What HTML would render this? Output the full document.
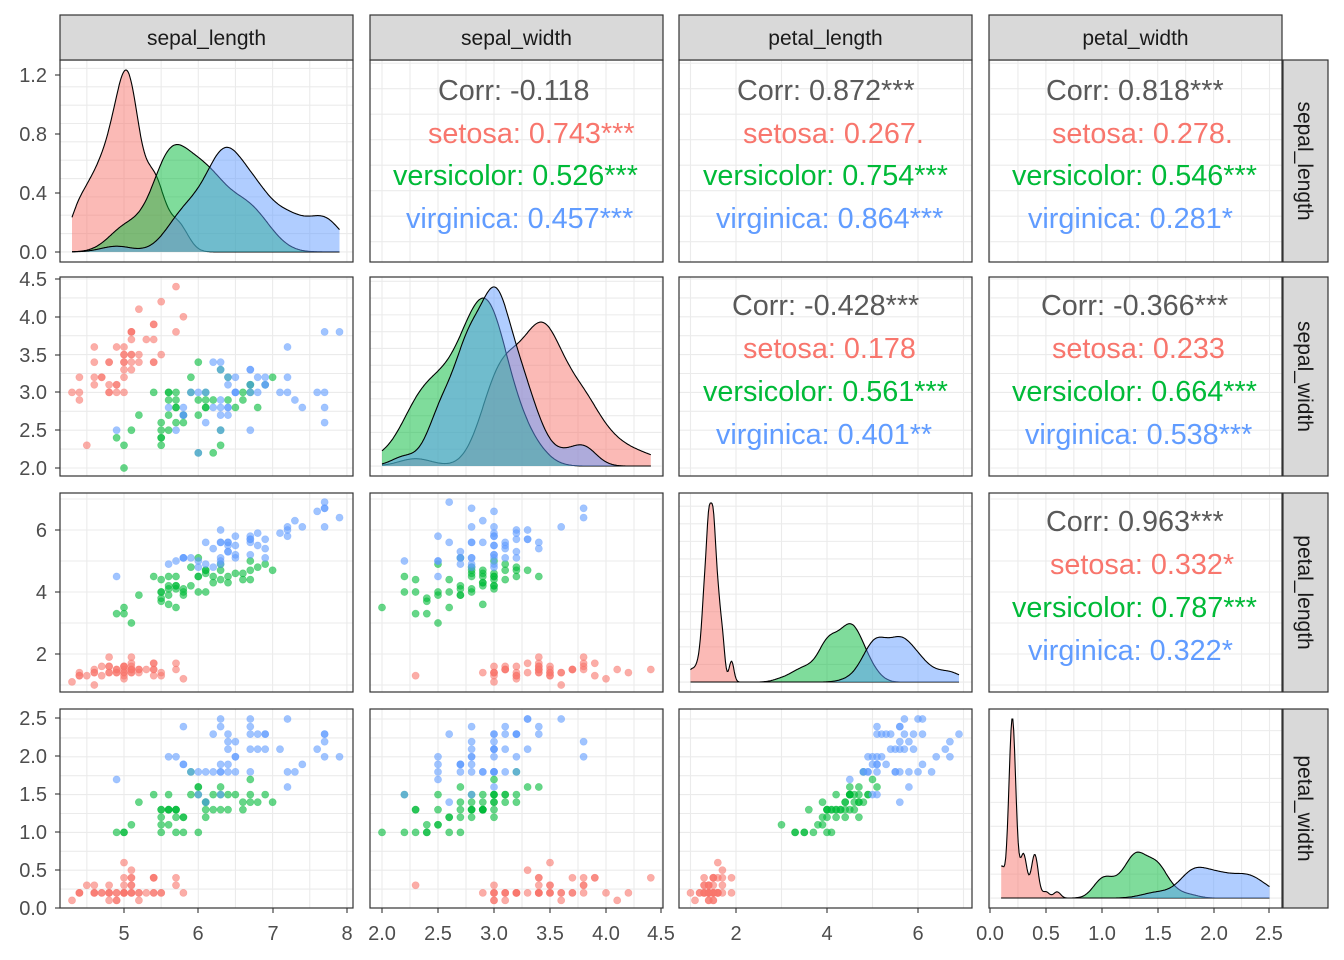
<!DOCTYPE html>
<html><head><meta charset="utf-8"><style>
html,body{margin:0;padding:0;background:#fff;}
svg{display:block;font-family:"Liberation Sans",Arial,sans-serif;}
.ax{font-size:20px;fill:#4d4d4d;}
.st{font-size:21px;fill:#1a1a1a;}
.cr{font-size:28.8px;}
</style></head><body>
<svg id="s" width="1344" height="960" viewBox="0 0 1344 960" xmlns="http://www.w3.org/2000/svg">
<g id="grid"></g><g id="data"></g><g id="frames"></g>
<g id="txt">
<text class="st" x="206.5" y="45" text-anchor="middle">sepal_length</text>
<text class="st" x="516.5" y="45" text-anchor="middle">sepal_width</text>
<text class="st" x="825.5" y="45" text-anchor="middle">petal_length</text>
<text class="st" x="1135.5" y="45" text-anchor="middle">petal_width</text>
<text class="st" transform="translate(1298,161) rotate(90)" text-anchor="middle">sepal_length</text>
<text class="st" transform="translate(1298,376.5) rotate(90)" text-anchor="middle">sepal_width</text>
<text class="st" transform="translate(1298,592.5) rotate(90)" text-anchor="middle">petal_length</text>
<text class="st" transform="translate(1298,808.5) rotate(90)" text-anchor="middle">petal_width</text>

<g class="cr">
<text x="438" y="100" fill="#595959">Corr: -0.118</text>
<text x="428" y="143" fill="#F8766D">setosa: 0.743***</text>
<text x="393" y="185" fill="#00BA38">versicolor: 0.526***</text>
<text x="406" y="228" fill="#619CFF">virginica: 0.457***</text>

<text x="737" y="100" fill="#595959">Corr: 0.872***</text>
<text x="743" y="143" fill="#F8766D">setosa: 0.267.</text>
<text x="703" y="185" fill="#00BA38">versicolor: 0.754***</text>
<text x="716" y="228" fill="#619CFF">virginica: 0.864***</text>

<text x="1046" y="100" fill="#595959">Corr: 0.818***</text>
<text x="1052" y="143" fill="#F8766D">setosa: 0.278.</text>
<text x="1012" y="185" fill="#00BA38">versicolor: 0.546***</text>
<text x="1028" y="228" fill="#619CFF">virginica: 0.281*</text>

<text x="732" y="315" fill="#595959">Corr: -0.428***</text>
<text x="743" y="358" fill="#F8766D">setosa: 0.178</text>
<text x="703" y="401" fill="#00BA38">versicolor: 0.561***</text>
<text x="716" y="444" fill="#619CFF">virginica: 0.401**</text>

<text x="1041" y="315" fill="#595959">Corr: -0.366***</text>
<text x="1052" y="358" fill="#F8766D">setosa: 0.233</text>
<text x="1012" y="401" fill="#00BA38">versicolor: 0.664***</text>
<text x="1025" y="444" fill="#619CFF">virginica: 0.538***</text>

<text x="1046" y="531" fill="#595959">Corr: 0.963***</text>
<text x="1050" y="574" fill="#F8766D">setosa: 0.332*</text>
<text x="1012" y="617" fill="#00BA38">versicolor: 0.787***</text>
<text x="1028" y="660" fill="#619CFF">virginica: 0.322*</text>
</g>

<g class="ax" text-anchor="end">
<text x="47" y="82">1.2</text><text x="47" y="141">0.8</text><text x="47" y="200">0.4</text><text x="47" y="259">0.0</text>
<text x="47" y="286">4.5</text><text x="47" y="324">4.0</text><text x="47" y="362">3.5</text><text x="47" y="399">3.0</text><text x="47" y="437">2.5</text><text x="47" y="475">2.0</text>
<text x="47" y="537">6</text><text x="47" y="599">4</text><text x="47" y="661">2</text>
<text x="47" y="725">2.5</text><text x="47" y="763">2.0</text><text x="47" y="801">1.5</text><text x="47" y="839">1.0</text><text x="47" y="877">0.5</text><text x="47" y="915">0.0</text>
</g>
<g class="ax" text-anchor="middle">
<text x="124" y="940">5</text><text x="198" y="940">6</text><text x="273" y="940">7</text><text x="347" y="940">8</text>
<text x="382" y="940">2.0</text><text x="438" y="940">2.5</text><text x="494" y="940">3.0</text><text x="550" y="940">3.5</text><text x="606" y="940">4.0</text><text x="661" y="940">4.5</text>
<text x="736" y="940">2</text><text x="827" y="940">4</text><text x="918" y="940">6</text>
<text x="990" y="940">0.0</text><text x="1046" y="940">0.5</text><text x="1102" y="940">1.0</text><text x="1158" y="940">1.5</text><text x="1214" y="940">2.0</text><text x="1269" y="940">2.5</text>
</g>
</g>
</svg>
<script>
var D=[
[5.1,3.5,1.4,0.2],[4.9,3.0,1.4,0.2],[4.7,3.2,1.3,0.2],[4.6,3.1,1.5,0.2],[5.0,3.6,1.4,0.2],[5.4,3.9,1.7,0.4],[4.6,3.4,1.4,0.3],[5.0,3.4,1.5,0.2],[4.4,2.9,1.4,0.2],[4.9,3.1,1.5,0.1],
[5.4,3.7,1.5,0.2],[4.8,3.4,1.6,0.2],[4.8,3.0,1.4,0.1],[4.3,3.0,1.1,0.1],[5.8,4.0,1.2,0.2],[5.7,4.4,1.5,0.4],[5.4,3.9,1.3,0.4],[5.1,3.5,1.4,0.3],[5.7,3.8,1.7,0.3],[5.1,3.8,1.5,0.3],
[5.4,3.4,1.7,0.2],[5.1,3.7,1.5,0.4],[4.6,3.6,1.0,0.2],[5.1,3.3,1.7,0.5],[4.8,3.4,1.9,0.2],[5.0,3.0,1.6,0.2],[5.0,3.4,1.6,0.4],[5.2,3.5,1.5,0.2],[5.2,3.4,1.4,0.2],[4.7,3.2,1.6,0.2],
[4.8,3.1,1.6,0.2],[5.4,3.4,1.5,0.4],[5.2,4.1,1.5,0.1],[5.5,4.2,1.4,0.2],[4.9,3.1,1.5,0.2],[5.0,3.2,1.2,0.2],[5.5,3.5,1.3,0.2],[4.9,3.6,1.4,0.1],[4.4,3.0,1.3,0.2],[5.1,3.4,1.5,0.2],
[5.0,3.5,1.3,0.3],[4.5,2.3,1.3,0.3],[4.4,3.2,1.3,0.2],[5.0,3.5,1.6,0.6],[5.1,3.8,1.9,0.4],[4.8,3.0,1.4,0.3],[5.1,3.8,1.6,0.2],[4.6,3.2,1.4,0.2],[5.3,3.7,1.5,0.2],[5.0,3.3,1.4,0.2],
[7.0,3.2,4.7,1.4],[6.4,3.2,4.5,1.5],[6.9,3.1,4.9,1.5],[5.5,2.3,4.0,1.3],[6.5,2.8,4.6,1.5],[5.7,2.8,4.5,1.3],[6.3,3.3,4.7,1.6],[4.9,2.4,3.3,1.0],[6.6,2.9,4.6,1.3],[5.2,2.7,3.9,1.4],
[5.0,2.0,3.5,1.0],[5.9,3.0,4.2,1.5],[6.0,2.2,4.0,1.0],[6.1,2.9,4.7,1.4],[5.6,2.9,3.6,1.3],[6.7,3.1,4.4,1.4],[5.6,3.0,4.5,1.5],[5.8,2.7,4.1,1.0],[6.2,2.2,4.5,1.5],[5.6,2.5,3.9,1.1],
[5.9,3.2,4.8,1.8],[6.1,2.8,4.0,1.3],[6.3,2.5,4.9,1.5],[6.1,2.8,4.7,1.2],[6.4,2.9,4.3,1.3],[6.6,3.0,4.4,1.4],[6.8,2.8,4.8,1.4],[6.7,3.0,5.0,1.7],[6.0,2.9,4.5,1.5],[5.7,2.6,3.5,1.0],
[5.5,2.4,3.8,1.1],[5.5,2.4,3.7,1.0],[5.8,2.7,3.9,1.2],[6.0,2.7,5.1,1.6],[5.4,3.0,4.5,1.5],[6.0,3.4,4.5,1.6],[6.7,3.1,4.7,1.5],[6.3,2.3,4.4,1.3],[5.6,3.0,4.1,1.3],[5.5,2.5,4.0,1.3],
[5.5,2.6,4.4,1.2],[6.1,3.0,4.6,1.4],[5.8,2.6,4.0,1.2],[5.0,2.3,3.3,1.0],[5.6,2.7,4.2,1.3],[5.7,3.0,4.2,1.2],[5.7,2.9,4.2,1.3],[6.2,2.9,4.3,1.3],[5.1,2.5,3.0,1.1],[5.7,2.8,4.1,1.3],
[6.3,3.3,6.0,2.5],[5.8,2.7,5.1,1.9],[7.1,3.0,5.9,2.1],[6.3,2.9,5.6,1.8],[6.5,3.0,5.8,2.2],[7.6,3.0,6.6,2.1],[4.9,2.5,4.5,1.7],[7.3,2.9,6.3,1.8],[6.7,2.5,5.8,1.8],[7.2,3.6,6.1,2.5],
[6.5,3.2,5.1,2.0],[6.4,2.7,5.3,1.9],[6.8,3.0,5.5,2.1],[5.7,2.5,5.0,2.0],[5.8,2.8,5.1,2.4],[6.4,3.2,5.3,2.3],[6.5,3.0,5.5,1.8],[7.7,3.8,6.7,2.2],[7.7,2.6,6.9,2.3],[6.0,2.2,5.0,1.5],
[6.9,3.2,5.7,2.3],[5.6,2.8,4.9,2.0],[7.7,2.8,6.7,2.0],[6.3,2.7,4.9,1.8],[6.7,3.3,5.7,2.1],[7.2,3.2,6.0,1.8],[6.2,2.8,4.8,1.8],[6.1,3.0,4.9,1.8],[6.4,2.8,5.6,2.1],[7.2,3.0,5.8,1.6],
[7.4,2.8,6.1,1.9],[7.9,3.8,6.4,2.0],[6.4,2.8,5.6,2.2],[6.3,2.8,5.1,1.5],[6.1,2.6,5.6,1.4],[7.7,3.0,6.1,2.3],[6.3,3.4,5.6,2.4],[6.4,3.1,5.5,1.8],[6.0,3.0,4.8,1.8],[6.9,3.1,5.4,2.1],
[6.7,3.1,5.6,2.4],[6.9,3.1,5.1,2.3],[5.8,2.7,5.1,1.9],[6.8,3.2,5.9,2.3],[6.7,3.3,5.7,2.5],[6.7,3.0,5.2,2.3],[6.3,2.5,5.0,1.9],[6.5,3.0,5.2,2.0],[6.2,3.4,5.4,2.3],[5.9,3.0,5.1,1.8]];
var COL=["#F8766D","#00BA38","#619CFF"];
var CX=[[60,353],[370,663],[679,972],[989,1282]];
var RY=[[60,262],[277,476],[493,692],[709,908]];
var XS=[function(v){return 124+(v-5)*74.3},function(v){return 382+(v-2)*112},function(v){return 736+(v-2)*45.5},function(v){return 990+v*111.8}];
var YS=[function(v){return 251.9-(v-4.3)*51},function(v){return 468-(v-2)*75.6},function(v){return 654-(v-2)*31},function(v){return 908-v*75.6}];
var XB=[[4.5,8,0.5],[2,4.5,0.25],[1,7,1],[0,2.5,0.25]];
var YB=[[4.5,8,0.5],[2,4.5,0.25],[1,7,1],[0,2.5,0.25]];
var NS="http://www.w3.org/2000/svg";
function el(p,t,a){var e=document.createElementNS(NS,t);for(var k in a)e.setAttribute(k,a[k]);p.appendChild(e);return e;}
var G=document.getElementById("grid"),DA=document.getElementById("data"),F=document.getElementById("frames");
var defs=el(document.getElementById("s"),"defs",{});
function col(i){return D.map(function(r){return r[i]});}
function sd(a){var m=a.reduce(function(s,x){return s+x},0)/a.length;return Math.sqrt(a.reduce(function(s,x){return s+(x-m)*(x-m)},0)/(a.length-1));}
function q(a,p){var b=a.slice().sort(function(x,y){return x-y});var h=(b.length-1)*p,l=Math.floor(h);return b[l]+(h-l)*((b[l+1]!==undefined?b[l+1]:b[l])-b[l]);}
function bw(a){var s=sd(a),iq=(q(a,0.75)-q(a,0.25))/1.34;var lo=Math.min(s,iq);if(!(lo>0))lo=s;return 0.9*lo*Math.pow(a.length,-0.2);}
var dens=[];
for(var v=0;v<4;v++){var all=col(v),mn=Math.min.apply(null,all),mx=Math.max.apply(null,all);var res=[],gmax=0;
 for(var g=0;g<3;g++){var a=all.slice(g*50,g*50+50),h=bw(a),pts=[];
  for(var i=0;i<=300;i++){var x=mn+(mx-mn)*i/300,s=0;for(var j=0;j<50;j++){var z=(x-a[j])/h;s+=Math.exp(-0.5*z*z);}s/=50*h*Math.sqrt(2*Math.PI);pts.push([x,s]);if(s>gmax)gmax=s;}
  res.push(pts);}
 dens.push({pts:res,max:gmax});}
function nice(m){var raw=m/4,p=Math.pow(10,Math.floor(Math.log10(raw))),r=raw/p;var st=r<1.5?1:r<2.25?2:r<3.5?2.5:r<7.5?5:10;return st*p;}
for(var r=0;r<4;r++)for(var c=0;c<4;c++){
 var x0=CX[c][0],x1=CX[c][1],y0=RY[r][0],y1=RY[r][1];
 var cid="c"+r+c;var cp=el(defs,"clipPath",{id:cid});el(cp,"rect",{x:x0,y:y0,width:x1-x0,height:y1-y0});
 var gg=el(G,"g",{"clip-path":"url(#"+cid+")"});
 var xb=XB[c];for(var t=xb[0]-xb[2]*4;t<=xb[1]+1e-9+xb[2]*4;t+=xb[2]){var px=XS[c](t);if(px<x0||px>x1)continue;el(gg,"line",{x1:px,x2:px,y1:y0,y2:y1,stroke:"#EBEBEB","stroke-width":1.1});}
 var H=y1-y0;
 if(r==c){var dm=dens[c].max,st=nice(dm);var yf=function(d){return y1-H*(0.05+0.9*d/dm)};
  for(var t=0;t<=dm*1.2;t+=st/2){el(gg,"line",{x1:x0,x2:x1,y1:yf(t),y2:yf(t),stroke:"#EBEBEB","stroke-width":1.1});}
  var dg=el(DA,"g",{"clip-path":"url(#"+cid+")"});
  for(var g=0;g<3;g++){var pts=dens[c].pts[g];var s="";pts.forEach(function(p){s+=XS[c](p[0]).toFixed(1)+","+yf(p[1]).toFixed(1)+" ";});
   var ps=XS[c](pts[0][0]).toFixed(1)+","+yf(0)+" "+s+XS[c](pts[pts.length-1][0]).toFixed(1)+","+yf(0);
   el(dg,"polygon",{points:ps,fill:COL[g],"fill-opacity":0.5,stroke:"none"});
   el(dg,"polyline",{points:s,fill:"none",stroke:"#000","stroke-width":1.1});}
 } else {
  var yb=YB[r];for(var t=yb[0]-yb[2]*4;t<=yb[1]+yb[2]*4+1e-9;t+=yb[2]){var py=YS[r](t);if(py<y0||py>y1)continue;el(gg,"line",{x1:x0,x2:x1,y1:py,y2:py,stroke:"#EBEBEB","stroke-width":1.1});}
  if(r>c){var dg=el(DA,"g",{"clip-path":"url(#"+cid+")"});
   D.forEach(function(row,i){var cc=COL[Math.floor(i/50)];el(dg,"circle",{cx:XS[c](row[c]).toFixed(1),cy:YS[r](row[r]).toFixed(1),r:3.6,fill:cc,"fill-opacity":0.6,stroke:cc,"stroke-opacity":0.4,"stroke-width":0.6});});}
 }
 el(F,"rect",{x:x0,y:y0,width:x1-x0,height:y1-y0,fill:"none",stroke:"#333","stroke-width":1.2});
}
for(var c=0;c<4;c++)el(F,"rect",{x:CX[c][0],y:15,width:CX[c][1]-CX[c][0],height:45,fill:"#D9D9D9",stroke:"#333","stroke-width":1.2});
for(var r=0;r<4;r++)el(F,"rect",{x:1283,y:RY[r][0],width:45,height:RY[r][1]-RY[r][0],fill:"#D9D9D9",stroke:"#333","stroke-width":1.2});
var ly=[[75,134,193,252],[279,317,355,392,430,468],[530,592,654],[718,756,794,832,870,908]];
ly.forEach(function(a){a.forEach(function(y){el(F,"line",{x1:55,x2:60,y1:y,y2:y,stroke:"#333","stroke-width":1.1});});});
var lx=[124,198,273,347,382,438,494,550,606,661,736,827,918,990,1046,1102,1158,1214,1269];
lx.forEach(function(x){el(F,"line",{x1:x,x2:x,y1:908,y2:913,stroke:"#333","stroke-width":1.1});});
</script>
</body></html>
